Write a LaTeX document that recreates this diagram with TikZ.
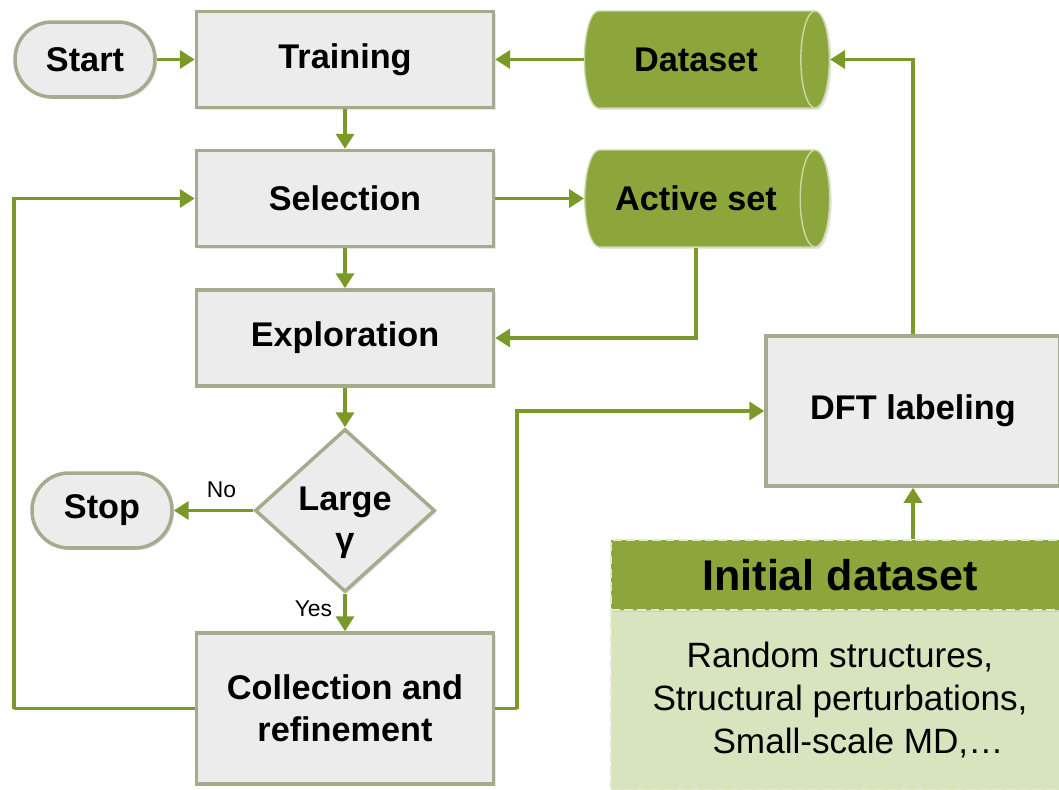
\documentclass[tikz,border=0pt]{standalone}
\usepackage{fontspec}
\setmainfont{Liberation Sans}
\usetikzlibrary{shapes.geometric,arrows.meta,shadows}

\definecolor{boxfill}{RGB}{236,236,236}
\definecolor{boxline}{RGB}{166,171,142}
\definecolor{olivefill}{RGB}{141,166,60}
\definecolor{arrowgreen}{RGB}{122,153,40}
\definecolor{paleolive}{RGB}{215,228,189}
\definecolor{dashline}{RGB}{228,234,210}

\newcommand{\sunk}[1]{\raisebox{-7pt}[\height][\depth]{#1}}

\tikzset{
    flow box/.style={
        draw=boxline,line width=2pt,
        fill=boxfill,
        minimum width=5.94cm,minimum height=1.92cm,
        align=center,
        font=\bfseries\fontsize{19.5}{24}\selectfont,
        drop shadow={opacity=.2,shadow xshift=1.2pt,shadow yshift=-1.2pt}
    },
    end box/.style={
        flow box,rounded corners=.74cm,
        minimum width=2.8cm,minimum height=1.5cm
    },
    data store/.style={
        cylinder,shape border rotate=0,aspect=.8,
        draw=white!55!olivefill,line width=.8pt,
        fill=olivefill,
        minimum width=1.94cm,minimum height=4.9cm,
        font=\bfseries\fontsize{19.5}{24}\selectfont,
        drop shadow={opacity=.2,shadow xshift=1.2pt,shadow yshift=-1.2pt}
    },
    decision box/.style={
        diamond,aspect=1.1,inner sep=0pt,
        draw=boxline,line width=2pt,
        fill=boxfill,
        minimum width=3.6cm,minimum height=3.26cm,
        align=center,
        font=\bfseries\fontsize{19.5}{23.5}\selectfont,
        drop shadow={opacity=.2,shadow xshift=1.2pt,shadow yshift=-1.2pt}
    },
    seed box/.style={
        draw=dashline,line width=1.3pt,dash pattern=on 5pt off 2.5pt,
        minimum width=9.16cm,
        align=center,
        drop shadow={opacity=.2,shadow xshift=1.2pt,shadow yshift=-1.2pt}
    },
    flow arrow/.style={
        draw=arrowgreen,line width=2.1pt,
        -{Triangle[length=.3cm,width=.36cm]}
    },
    flow line/.style={draw=arrowgreen,line width=2.1pt},
    answer/.style={font=\fontsize{13}{15}\selectfont}
}

\begin{document}
\begin{tikzpicture}[x=.02cm,y=-.02cm]
        \useasboundingbox (0,0) rectangle (1059,789);
        \node[end box] (start) at (85,59.5) {Start};
        \node[flow box] (training) at (345,59.5) {Training};
        \node[data store] (dataset) at (696,59.5) {Dataset};
        \node[flow box] (selection) at (345,198.5) {Selection};
        \node[data store] (activeset) at (696,198.5) {Active set};
        \node[flow box] (exploration) at (345,338) {Exploration};
        \node[decision box] (decision) at (345,510.5) {\sunk{Large}\\\sunk{γ}};
        \node[end box] (stop) at (102,510.5) {Stop};
        \node[flow box,minimum height=3.02cm] (collection) at (345,708.5) {Collection and\\refinement};
        \node[flow box,minimum width=5.88cm,minimum height=3cm] (dft) at (913,411) {DFT labeling};
        \node[seed box,fill=paleolive,minimum height=3.6cm,
            font=\fontsize{20}{24.5}\selectfont] (idbody) at (840,700)
            {Random structures,\\Structural perturbations,\\\hspace*{.72cm}Small-scale MD,…};
        \node[seed box,fill=olivefill,minimum height=1.4cm,
            font=\bfseries\fontsize{24.5}{28}\selectfont] (idhead) at (840,575) {Initial dataset};
        \coordinate (leftrail) at (14,0);
        \coordinate (midrail) at (517,0);
        \draw[flow arrow] (start) -- (training);
        \draw[flow arrow] (dataset) -- (training);
        \foreach \a/\b in {training/selection,selection/exploration,exploration/decision}
            \draw[flow arrow] (\a.south) -- (\b.north);
        \draw[flow arrow] (selection) -- (activeset);
        \draw[flow arrow] (activeset.south) |- (exploration.east);
        \draw[flow arrow] (decision.west) -- (stop.east) node[answer,pos=.4,above=3pt] {No};
        \draw[flow arrow] (decision.south) -- (collection.north) node[answer,pos=.4,left=3pt] {Yes};
        \draw[flow line] (collection.west) -- (collection.west -| leftrail);
        \draw[flow arrow] (collection.west -| leftrail) |- (selection.west);
        \draw[flow line] (collection.east) -- (collection.east -| midrail);
        \draw[flow arrow] (collection.east -| midrail) |- (dft.west);
        \draw[flow arrow] (dft.north) |- (dataset.east);
        \draw[flow arrow] (idhead.north -| dft.south) -- (dft.south);
    \end{tikzpicture}
\end{document}
